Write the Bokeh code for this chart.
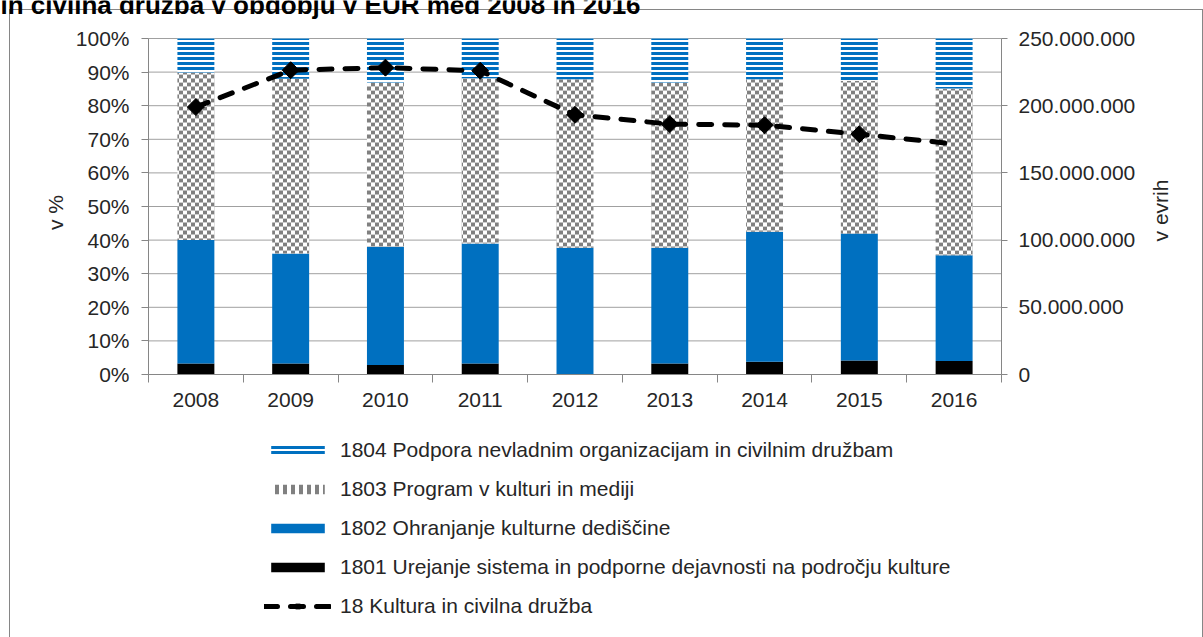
import numpy as np
from bokeh.plotting import figure
from bokeh.models import (Range1d, LinearAxis, FixedTicker, CustomJSTickFormatter,
                          PrintfTickFormatter, Legend, LegendItem, Label)
from bokeh.embed import file_html
from bokeh.resources import INLINE

# ---------------- data ----------------
years = ["2008", "2009", "2010", "2011", "2012", "2013", "2014", "2015", "2016"]
# shares of the programme group in %, per year
share_1801 = [3.3, 3.3, 2.8, 3.3, 0.0, 3.3, 3.8, 4.2, 4.0]
share_1802 = [36.7, 32.7, 35.2, 35.7, 37.7, 34.4, 38.7, 37.8, 31.5]
share_1803 = [49.9, 52.0, 48.9, 49.2, 50.2, 49.2, 45.4, 45.4, 49.6]
share_1804 = [10.1, 12.0, 13.1, 11.8, 12.1, 13.1, 12.1, 12.6, 14.9]
# total of 18 Kultura in civilna druzba in EUR
total_18 = [199.0e6, 226.4e6, 228.3e6, 226.0e6, 193.2e6, 186.3e6, 185.5e6, 178.8e6, 171.6e6]

labels = {
    "1804": "1804 Podpora nevladnim organizacijam in civilnim družbam",
    "1803": "1803 Program v kulturi in mediji",
    "1802": "1802 Ohranjanje kulturne dediščine",
    "1801": "1801 Urejanje sistema in podporne dejavnosti na področju kulture",
    "18": "18 Kultura in civilna družba",
}
title_text = "in civilna družba v obdobju v EUR med 2008 in 2016"
left_title = "v %"
right_title = "v evrih"

left_ticks = list(range(0, 101, 10))
right_ticks = [0, 50e6, 100e6, 150e6, 200e6, 250e6]
left_max = 100
right_max = 250e6

# ---------------- styling / layout ----------------
FONT = "Liberation Sans"
FS = "21px"
TXT = "#262626"
AXC = "#868686"
GRID = "#a0a0a0"
BLUE = "#0070C0"
CHK = "#808080"

WIDTH, HEIGHT = 1203, 637
PX_LEFT, PX_RIGHT = 148, 1001      # pixel columns of the two value axes
PX_TOP, PX_ZERO = 38, 374          # pixel rows of 100 % and of 0
n = len(years)
SX = (PX_RIGHT - PX_LEFT) / n
SY = (PX_ZERO - PX_TOP) / left_max
r_ratio = right_max / left_max


def px2x(px):
    return (px - PX_LEFT) / SX


def px2y(py):
    return (PX_ZERO - py) / SY


x = np.arange(n) + 0.5
b1 = np.zeros(n)
t1 = b1 + np.array(share_1801)
t2 = t1 + np.array(share_1802)
t3 = t2 + np.array(share_1803)
t4 = t3 + np.array(share_1804)

p = figure(width=WIDTH, height=HEIGHT,
           x_range=Range1d(px2x(0), px2x(WIDTH)),
           y_range=Range1d(px2y(HEIGHT), px2y(0)),
           output_backend="svg", toolbar_location=None, min_border=0)
p.extra_y_ranges = {"eur": Range1d(px2y(HEIGHT) * r_ratio, px2y(0) * r_ratio)}
p.outline_line_color = None
p.background_fill_alpha = 0
p.border_fill_alpha = 0
p.styles = {
    "background-image": ("linear-gradient(#868686,#868686), linear-gradient(#868686,#868686), "
                         "linear-gradient(#868686,#868686)"),
    "background-size": "1px 100%, 100% 1px, 1px 100%",
    "background-position": "9px 9px, 9px 9px, 1202px 9px",
    "background-repeat": "no-repeat",
}
p.xgrid.visible = False
p.ygrid.visible = False

# horizontal grid lines, between the two value axes
p.segment(x0=[0] * len(left_ticks), x1=[n] * len(left_ticks), y0=left_ticks, y1=left_ticks,
          line_color=GRID, line_width=1)

W = 0.39
r1801 = p.vbar(x=x, bottom=b1, top=t1, width=W, fill_color="black", line_color=None)
r1802 = p.vbar(x=x, bottom=t1, top=t2, width=W, fill_color=BLUE, line_color=None)

# 1803: checkerboard made of 4 px rows with alternating stripe phase
rh = 4 / SY
rows = {0: ([], [], []), 1: ([], [], [])}
for i in range(n):
    k = int(np.floor(t2[i] / rh))
    while k * rh < t3[i] - 1e-9:
        lo = max(k * rh, t2[i])
        hi = min((k + 1) * rh, t3[i])
        xs, bs, ts = rows[k % 2]
        xs.append(x[i]); bs.append(lo); ts.append(hi)
        k += 1
r1803a = p.vbar(x=rows[0][0], bottom=rows[0][1], top=rows[0][2], width=W,
                fill_color="white", line_color=None,
                hatch_pattern="vertical_line", hatch_color=CHK, hatch_scale=8, hatch_weight=4)
r1803b = p.vbar(x=rows[1][0], bottom=rows[1][1], top=rows[1][2], width=W,
                fill_color=CHK, line_color=None,
                hatch_pattern="vertical_line", hatch_color="white", hatch_scale=8, hatch_weight=4)

r1804 = p.vbar(x=x, bottom=t3, top=t4, width=W, fill_color="white", line_color=None,
               hatch_pattern="horizontal_line", hatch_color=BLUE,
               hatch_scale=5, hatch_weight=3, hatch_alpha=1.0)

rline = p.line(x, total_18, y_range_name="eur", line_color="black", line_width=5,
               line_dash="13 13", line_cap="round", line_join="round")
rmark = p.scatter(x[:-1], total_18[:-1], y_range_name="eur", marker="square",
                  angle=np.pi / 4, size=12, fill_color="black", line_color="black")

# ---------------- axes ----------------
xa = p.xaxis[0]
xa.fixed_location = 0
xa.bounds = (0, n)
xa.ticker = FixedTicker(ticks=list(x), minor_ticks=list(np.arange(n + 1)))
xa.formatter = CustomJSTickFormatter(args=dict(labels=years),
                                     code="return labels[Math.floor(tick)];")
xa.major_tick_out = 0
xa.major_tick_in = 0
xa.minor_tick_out = 8
xa.minor_tick_in = 0
xa.minor_tick_line_color = AXC
xa.axis_line_color = AXC
xa.major_label_standoff = 10

ya = p.yaxis[0]
ya.fixed_location = 0
ya.bounds = (0, left_max)
ya.ticker = FixedTicker(ticks=left_ticks)
ya.formatter = PrintfTickFormatter(format="%d%%")
ya.major_tick_out = 7
ya.major_tick_in = 0
ya.minor_tick_line_color = None
ya.axis_line_color = AXC
ya.major_tick_line_color = AXC
ya.major_label_standoff = 12

ra = LinearAxis(y_range_name="eur", ticker=FixedTicker(ticks=right_ticks), bounds=(0, right_max),
                fixed_location=n,
                formatter=CustomJSTickFormatter(code="""
return Math.round(tick).toString().replace(/\\B(?=(\\d{3})+(?!\\d))/g, '.');
"""))
ra.major_tick_out = 6
ra.major_tick_in = 0
ra.minor_tick_line_color = None
ra.axis_line_color = AXC
ra.major_tick_line_color = AXC
ra.major_label_standoff = 11
p.add_layout(ra, "right")

for ax in (xa, ya, ra):
    ax.major_label_text_font = FONT
    ax.major_label_text_font_size = FS
    ax.major_label_text_color = TXT

# axis titles and the (cut) chart title
p.add_layout(Label(x=px2x(55), y=px2y(212), text=left_title, angle=np.pi / 2,
                   text_align="center", text_baseline="middle", text_font=FONT,
                   text_font_size=FS, text_color=TXT))
p.add_layout(Label(x=px2x(1160), y=px2y(210), text=right_title, angle=np.pi / 2,
                   text_align="center", text_baseline="middle", text_font=FONT,
                   text_font_size=FS, text_color=TXT))
p.add_layout(Label(x=px2x(0), y=px2y(4), text=title_text, text_align="left",
                   text_baseline="alphabetic", text_font=FONT, text_font_size="26px",
                   text_font_style="bold", text_color="#000000"))

# ---------------- legend ----------------
legend = Legend(items=[
    LegendItem(label=labels["1804"], renderers=[r1804]),
    LegendItem(label=labels["1803"], renderers=[r1803a]),
    LegendItem(label=labels["1802"], renderers=[r1802]),
    LegendItem(label=labels["1801"], renderers=[r1801]),
    LegendItem(label=labels["18"], renderers=[rline, rmark]),
], location=(264, 19), orientation="vertical")
legend.glyph_width = 67
legend.glyph_height = 12
legend.label_height = 24
legend.spacing = 15
legend.label_standoff = 9
legend.padding = 0
legend.margin = 0
legend.border_line_color = None
legend.background_fill_alpha = 0
legend.label_text_font = FONT
legend.label_text_font_size = FS
legend.label_text_color = TXT
p.add_layout(legend, "center")

open("out.html", "w").write(file_html(p, INLINE))
